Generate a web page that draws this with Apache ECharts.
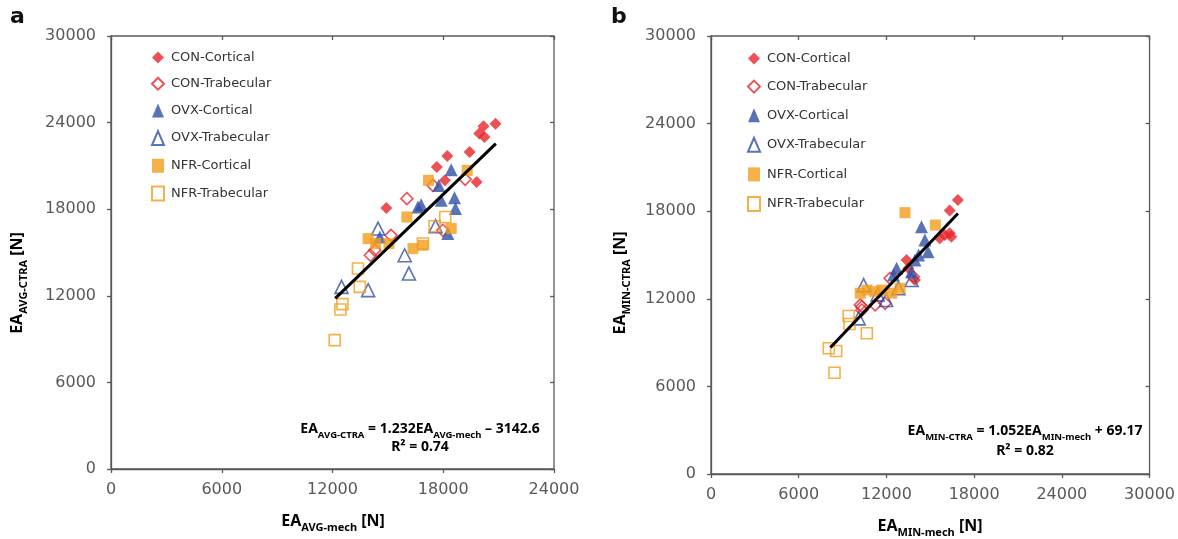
<!DOCTYPE html>
<html>
<head>
<meta charset="utf-8">
<script src="https://cdn.jsdelivr.net/npm/echarts@6/dist/echarts.min.js"></script>
<style>
html, body { margin: 0; padding: 0; background: #fff; }
#main { width: 1178px; height: 539px; }
</style>
</head>
<body>
<div id="main"></div>
<script>
// 系列名称
var seriesNames = ['CON-Cortical', 'CON-Trabecular', 'OVX-Cortical', 'OVX-Trabecular', 'NFR-Cortical', 'NFR-Trabecular'];

// 刻度
var avgXTicks = [0, 6000, 12000, 18000, 24000];
var minXTicks = [0, 6000, 12000, 18000, 24000, 30000];
var yTicks = [0, 6000, 12000, 18000, 24000, 30000];

// a: EA AVG-mech / AVG-CTRA
var avgConCort = [[20830, 23920], [20180, 23740], [20230, 23000], [19950, 23250], [19430, 21960], [18220, 21680], [17650, 20920], [18090, 20000], [19810, 19880], [14920, 18080]];
var avgConTrab = [[16030, 18730], [15170, 16190], [14050, 14810], [14290, 15160], [19190, 20070], [17440, 19650], [17980, 16540]];
var avgOvxCort = [[18430, 20740], [17760, 19650], [17890, 18620], [18610, 18800], [18660, 18040], [16630, 18150], [16800, 18300], [18250, 16310], [14560, 16080]];
var avgOvxTrab = [[14470, 16660], [15910, 14810], [16140, 13540], [12490, 12620], [13930, 12390], [17580, 16820]];
var avgNfrCort = [[17200, 20000], [19300, 20690], [16030, 17460], [13930, 15960], [14340, 15620], [15060, 15620], [16360, 15270], [16900, 15500], [18430, 16660]];
var avgNfrTrab = [[13380, 13890], [13480, 12620], [12540, 11420], [12430, 11050], [12120, 8930], [18110, 17460], [17530, 16820], [16900, 15620]];
var avgFitCoef = [1.232, -3142.6];
var avgFitRange = [12150, 20850];

// b: EA MIN-mech / MIN-CTRA
var minConCort = [[16890, 18770], [16330, 18040], [15990, 16370], [16330, 16490], [15650, 16140], [16440, 16250], [13380, 14660], [13950, 13290], [13500, 14100]];
var minConTrab = [[12250, 13400], [10320, 11460], [11230, 11580], [11910, 11690], [10210, 11580], [13840, 13510], [10320, 11230]];
var minOvxCort = [[14400, 16940], [14630, 16030], [14850, 15230], [13950, 14660], [13720, 13860], [12700, 14090], [12480, 13630], [14200, 15000]];
var minOvxTrab = [[10440, 12940], [10100, 10660], [12820, 12720], [13720, 13290], [11980, 11920], [11400, 12300]];
var minNfrCort = [[13270, 17900], [15350, 17050], [10210, 12380], [10660, 12600], [11230, 12490], [11680, 12600], [12360, 12380], [12930, 12720]];
var minNfrTrab = [[9420, 10820], [9470, 10270], [10660, 9640], [8060, 8610], [8560, 8420], [8450, 6940]];
var minFitCoef = [1.052, 69.17];
var minFitRange = [8170, 16890];

var RED = '#e8262b', BLUE = '#3150a5', ORANGE = '#f39c1c';
var GRAY = '#595959';
var FONT = 'DejaVu Sans';
var BOLD_FONT = 'Noto Sans';
var DIAMOND = 'path://M5,0L10,5L5,10L0,5Z';

var styles = [
	{ symbol : DIAMOND, size : 12, color : RED, open : false },
	{ symbol : DIAMOND, size : 12, color : RED, open : true },
	{ symbol : 'triangle', size : 13, color : BLUE, open : false },
	{ symbol : 'triangle', size : 13, color : BLUE, open : true },
	{ symbol : 'rect', size : 11, color : ORANGE, open : false },
	{ symbol : 'rect', size : 11, color : ORANGE, open : true }
];

function scatter(idx, data, axisIdx) {
	var s = styles[idx];
	return {
		name : seriesNames[idx],
		type : 'scatter',
		xAxisIndex : axisIdx,
		yAxisIndex : axisIdx,
		symbol : s.symbol,
		symbolSize : s.size,
		data : data,
		itemStyle : s.open ? {
			color : 'rgba(255,255,255,0)',
			borderColor : s.color,
			borderWidth : 1.6
		} : {
			color : s.color
		},
		emphasis : { disabled : true }
	};
}

function fitLine(coef, range, axisIdx) {
	var pts = [];
	for (var i = 0; i < range.length; i++) {
		pts.push([range[i], coef[0] * range[i] + coef[1]]);
	}
	return {
		type : 'line',
		xAxisIndex : axisIdx,
		yAxisIndex : axisIdx,
		data : pts,
		symbol : 'none',
		lineStyle : { color : '#000', width : 3 },
		z : 5
	};
}

function valueAxis(ticks, gridIdx, isX, overlay) {
	return {
		type : 'value',
		gridIndex : gridIdx,
		min : ticks[0],
		max : ticks[ticks.length - 1],
		interval : 6000,
		splitLine : { show : false },
		axisLine : { show : !overlay, onZero : false, lineStyle : { color : GRAY, width : 1.3 } },
		axisTick : { show : true, inside : overlay, length : 4, lineStyle : { color : GRAY, width : 1.3 } },
		axisLabel : {
			show : !overlay,
			color : GRAY,
			fontFamily : FONT,
			fontSize : 16,
			margin : isX ? 13 : 15,
			formatter : function(v) {
				return String(v);
			}
		}
	};
}

function legend(left, top, gap) {
	return {
		left : left,
		top : top,
		orient : 'vertical',
		align : 'left',
		itemWidth : 12,
		itemHeight : 14,
		itemGap : gap,
		selectedMode : false,
		data : seriesNames,
		textStyle : {
			color : '#333',
			fontFamily : FONT,
			fontSize : 13,
			padding : [ 0, 0, 0, 2 ]
		}
	};
}

var mainStyle = { fontFamily : BOLD_FONT, fontSize : 16, fontWeight : 'bold', color : '#262626', lineHeight : 19, verticalAlign : 'top' };
var subStyle = { fontFamily : BOLD_FONT, fontSize : 11, fontWeight : 'bold', color : '#262626', lineHeight : 20, verticalAlign : 'bottom' };
var eqStyle = { fontFamily : BOLD_FONT, fontSize : 14, fontWeight : 'bold', color : '#262626', lineHeight : 17, verticalAlign : 'top' };
var eqSub = { fontFamily : BOLD_FONT, fontSize : 9.5, fontWeight : 'bold', color : '#262626', lineHeight : 18, verticalAlign : 'bottom' };

function label(text, x, y, rotate, rich) {
	return {
		type : 'text',
		x : x,
		y : y,
		rotation : rotate ? Math.PI / 2 : 0,
		style : {
			text : text,
			align : 'center',
			verticalAlign : 'middle',
			rich : rich || { m : mainStyle, s : subStyle }
		}
	};
}

var myChart = echarts.init(document.getElementById('main'), null, { renderer : 'canvas' });

var option = {
	backgroundColor : '#ffffff',
	animation : false,
	grid : [
		{ left : 111, top : 36, width : 443, height : 433, show : true, borderColor : GRAY, borderWidth : 1.3, backgroundColor : 'transparent' },
		{ left : 711, top : 36, width : 441, height : 438, show : true, borderColor : GRAY, borderWidth : 1.3, backgroundColor : 'transparent' }
	],
	xAxis : [
		valueAxis(avgXTicks, 0, true, false),
		valueAxis(minXTicks, 1, true, false),
		valueAxis(avgXTicks, 0, true, true),
		valueAxis(minXTicks, 1, true, true)
	],
	yAxis : [
		valueAxis(yTicks, 0, false, false),
		valueAxis(yTicks, 1, false, false),
		valueAxis(yTicks, 0, false, true),
		valueAxis(yTicks, 1, false, true)
	],
	legend : [ legend(146, 46, 12.7), legend(742, 47, 14.6) ],
	series : [
		scatter(0, avgConCort, 0),
		scatter(1, avgConTrab, 0),
		scatter(2, avgOvxCort, 0),
		scatter(3, avgOvxTrab, 0),
		scatter(4, avgNfrCort, 0),
		scatter(5, avgNfrTrab, 0),
		fitLine(avgFitCoef, avgFitRange, 0),
		scatter(0, minConCort, 1),
		scatter(1, minConTrab, 1),
		scatter(2, minOvxCort, 1),
		scatter(3, minOvxTrab, 1),
		scatter(4, minNfrCort, 1),
		scatter(5, minNfrTrab, 1),
		fitLine(minFitCoef, minFitRange, 1)
	],
	graphic : [
		{ type : 'text', x : 10, y : 6, style : { text : 'a', fontFamily : FONT, fontSize : 22, fontWeight : 'bold', fill : '#111' } },
		{ type : 'text', x : 611, y : 6, style : { text : 'b', fontFamily : FONT, fontSize : 22, fontWeight : 'bold', fill : '#111' } },
		label('{m|EA}{s|AVG-CTRA}{m| [N]}', 19, 283, true),
		label('{m|EA}{s|MIN-CTRA}{m| [N]}', 622, 283, true),
		label('{m|EA}{s|AVG-mech}{m| [N]}', 333, 523, false),
		label('{m|EA}{s|MIN-mech}{m| [N]}', 930, 528, false),
		label('{m|EA}{s|AVG-CTRA}{m| = 1.232EA}{s|AVG-mech}{m| \u2013 3142.6}', 420, 431, false, { m : eqStyle, s : eqSub }),
		label('{m|R\u00b2 = 0.74}', 420, 449, false, { m : eqStyle, s : eqSub }),
		label('{m|EA}{s|MIN-CTRA}{m| = 1.052EA}{s|MIN-mech}{m| + 69.17}', 1025, 433, false, { m : eqStyle, s : eqSub }),
		label('{m|R\u00b2 = 0.82}', 1025, 453, false, { m : eqStyle, s : eqSub })
	]
};

myChart.setOption(option);
</script>
</body>
</html>
